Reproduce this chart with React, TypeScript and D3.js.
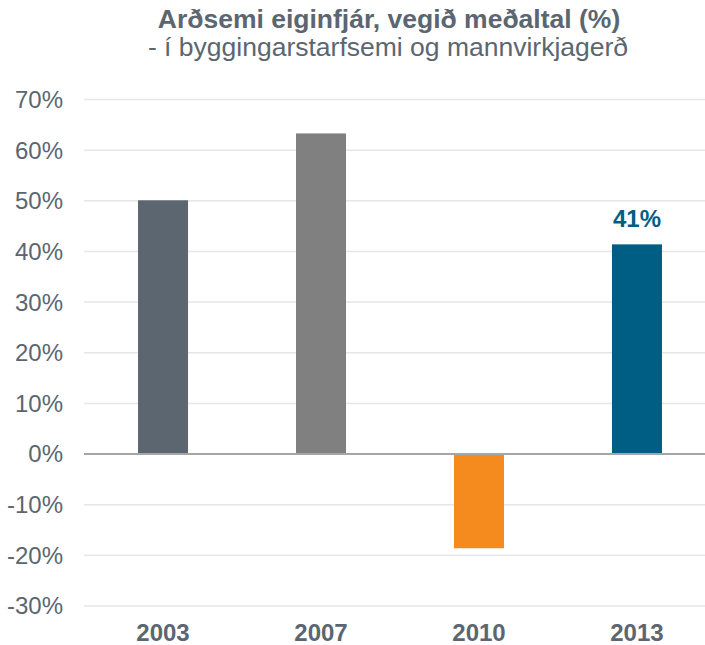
import React from "react";
import * as d3 from "d3";

const categories = ["2003", "2007", "2010", "2013"];
const values = [50.1, 63.3, -18.6, 41.4];
const barColors = ["#5b6670", "#808080", "#f58b1f", "#005e85"];
const labels = ["", "", "", "41%"];
const yTicks = [-30, -20, -10, 0, 10, 20, 30, 40, 50, 60, 70];
const title = "Arðsemi eiginfjár, vegið meðaltal (%)";
const subtitle = "- í byggingarstarfsemi og mannvirkjagerð";

const W = 705;
const H = 645;
const textColor = "#5b6670";
const font = "'Liberation Sans', Arial, sans-serif";

export default function App() {
  const y = d3.scaleLinear().domain([-30, 70]).range([606, 99.5]);
  const x = d3
    .scaleBand<string>()
    .domain(categories)
    .range([84, 716])
    .paddingInner(0.6835)
    .paddingOuter(0.342);

  return (
    <svg
      width={W}
      height={H}
      style={{ position: "absolute", left: 0, top: 0, background: "#fff" }}
      fontFamily={font}
    >
      <text x={389} y={28} textAnchor="middle" fontSize={26.5} fontWeight="bold" fill={textColor}>
        {title}
      </text>
      <text x={388} y={56} textAnchor="middle" fontSize={26.5} fill={textColor}>
        {subtitle}
      </text>
      {yTicks.map((t) => (
        <g key={t}>
          {t !== 0 && (
            <line x1={84} x2={705} y1={y(t)} y2={y(t)} stroke="#e6e6e6" strokeWidth={1.5} />
          )}
          <text
            x={63}
            y={y(t)}
            dy="0.35em"
            textAnchor="end"
            fontSize={24}
            fill={textColor}
          >
            {t + "%"}
          </text>
        </g>
      ))}
      {categories.map((c, i) => {
        const v = values[i];
        const y0 = y(Math.max(0, v));
        const y1 = y(Math.min(0, v));
        return (
          <g key={c}>
            <rect x={x(c)} y={y0} width={x.bandwidth()} height={y1 - y0} fill={barColors[i]} />
            {labels[i] && (
              <text
                x={(x(c) as number) + x.bandwidth() / 2}
                y={y0 - 17}
                textAnchor="middle"
                fontSize={24}
                fontWeight="bold"
                fill={barColors[i]}
              >
                {labels[i]}
              </text>
            )}
            <text
              x={(x(c) as number) + x.bandwidth() / 2}
              y={641}
              textAnchor="middle"
              fontSize={24}
              fontWeight="bold"
              fill={textColor}
            >
              {c}
            </text>
          </g>
        );
      })}
      <line x1={84} x2={705} y1={y(0)} y2={y(0)} stroke="#a6a6a6" strokeWidth={2} />
    </svg>
  );
}
